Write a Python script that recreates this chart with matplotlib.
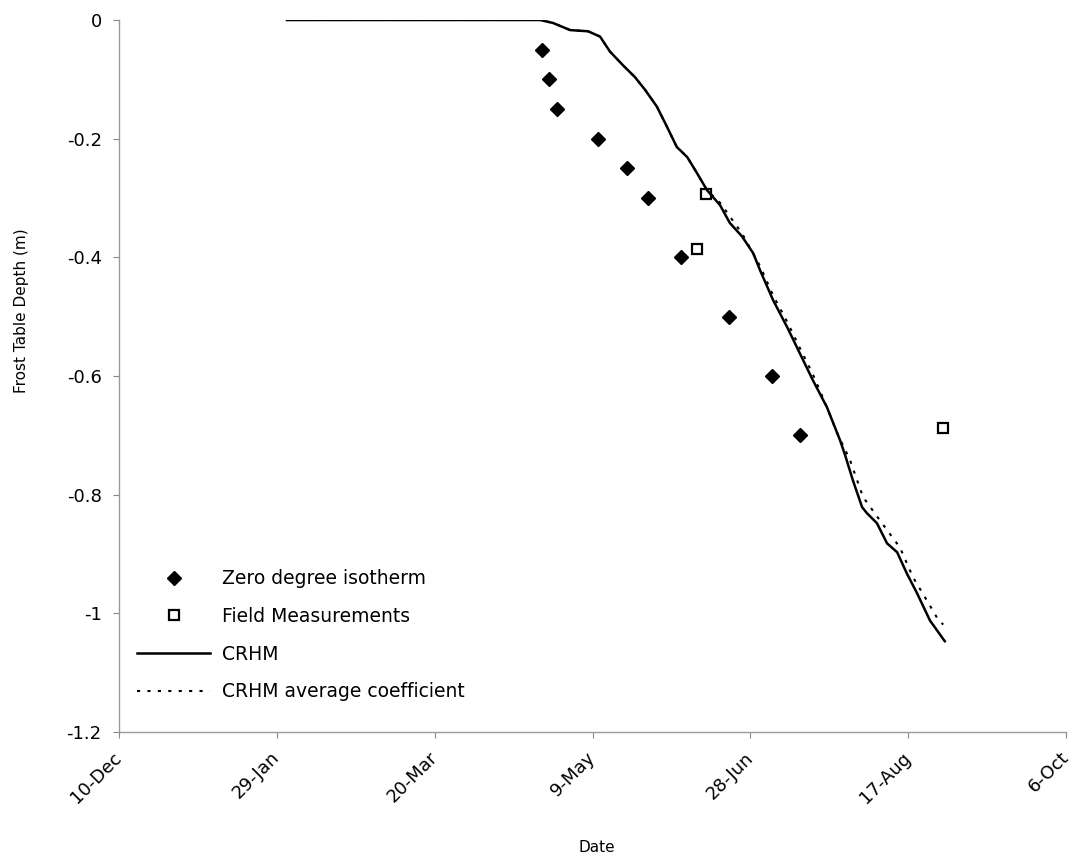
import matplotlib
matplotlib.use('Agg')
import matplotlib.pyplot as plt
import numpy as np

# x values are days after 10 Dec
tick_days = [0, 50, 100, 150, 200, 250, 300]
tick_labels = ['10-Dec', '29-Jan', '20-Mar', '9-May', '28-Jun', '17-Aug', '6-Oct']

# zero degree isotherm depth
iso_days = [133.9, 136.3, 138.7, 151.6, 161.0, 167.6, 178.1, 193.3, 206.8, 215.7]
iso_depth = [-0.05, -0.10, -0.15, -0.20, -0.25, -0.30, -0.40, -0.50, -0.60, -0.70]

# field measurements
field_days = [186.0, 183.0, 261.1]
field_depth = [-0.293, -0.386, -0.687]

# CRHM simulated frost table
crhm_days = [53.2, 133.4, 137.5, 142.9, 148.6, 152.4, 155.5, 159.6, 163.4, 166.7,
             170.4, 173.6, 176.7, 180.0, 183.1, 186.3, 190.4, 193.5, 197.4, 200.9,
             203.1, 207.2, 211.7, 215.7, 219.8, 224.3, 228.4, 230.0, 232.5, 235.4,
             236.9, 240.1, 243.3, 246.5, 249.6, 252.8, 256.9, 261.6]
crhm_depth = [0, 0, -0.005, -0.017, -0.019, -0.028, -0.053, -0.076, -0.096, -0.118,
              -0.146, -0.180, -0.214, -0.231, -0.258, -0.287, -0.312, -0.342, -0.365, -0.393,
              -0.422, -0.472, -0.518, -0.562, -0.607, -0.653, -0.708, -0.733, -0.776, -0.821,
              -0.831, -0.848, -0.882, -0.897, -0.933, -0.966, -1.012, -1.047]

# CRHM with average coefficient
avg_days = [53.2, 133.4, 137.5, 142.9, 148.6, 152.4, 155.5, 159.6, 163.4, 166.7,
            170.4, 173.6, 176.7, 180.0, 183.1, 186.3, 190.4, 197.4, 203.1, 207.2,
            211.7, 215.7, 219.8, 224.3, 227.5, 231.6, 235.7, 241.0, 247.4, 251.5,
            255.9, 259.2, 261.1]
avg_depth = [0, 0, -0.005, -0.017, -0.019, -0.028, -0.053, -0.076, -0.096, -0.118,
             -0.146, -0.180, -0.214, -0.231, -0.258, -0.287, -0.308, -0.360, -0.415, -0.464,
             -0.509, -0.553, -0.597, -0.653, -0.696, -0.742, -0.804, -0.843, -0.889, -0.939,
             -0.978, -1.008, -1.019]

fig = plt.figure(figsize=(10.75, 8.68), dpi=100)
ax = fig.add_axes([119/1075, 1 - 732/868, 947/1075, 712/868])

ax.plot(iso_days, iso_depth, 'D', color='black', markersize=7, linestyle='none',
        label='Zero degree isotherm')
ax.plot(field_days, field_depth, 's', markerfacecolor='white', markeredgecolor='black',
        markeredgewidth=1.6, markersize=7.5, linestyle='none', label='Field Measurements')
ax.plot(crhm_days, crhm_depth, color='black', lw=1.8, label='CRHM')
ax.plot(avg_days, avg_depth, color='black', lw=1.5, linestyle=(0, (1.5, 3.5)),
        label='CRHM average coefficient')

ax.set_xlim(0, 300)
ax.set_ylim(-1.2, 0)
ax.set_xticks(tick_days)
ax.set_xticklabels(tick_labels, rotation=45, ha='right', va='center',
                   rotation_mode='anchor')
ax.set_yticks(np.arange(-1.2, 0.01, 0.2))
ax.set_yticklabels(['-1.2', '-1', '-0.8', '-0.6', '-0.4', '-0.2', '0'])
ax.tick_params(axis='both', labelsize=13, length=4.5, color='#888888', direction='out')
ax.tick_params(axis='y', pad=8)
ax.tick_params(axis='x', pad=12)

for s in ['top', 'right']:
    ax.spines[s].set_visible(False)
for s in ['left', 'bottom']:
    ax.spines[s].set_color('#999999')
    ax.spines[s].set_linewidth(1)

fig.text(22/1075, 1 - 311/868, 'Frost Table Depth (m)', rotation=90,
         ha='center', va='center', fontsize=11)
fig.text(597/1075, 1 - 848/868, 'Date', ha='center', va='center', fontsize=11)

ax.legend(loc='lower left', bbox_to_anchor=(0.019, 0.043), frameon=False,
          fontsize=13.5, handlelength=3.9, handletextpad=0.65, labelspacing=1.0,
          borderpad=0, borderaxespad=0)

fig.savefig('out.png', dpi=100)
